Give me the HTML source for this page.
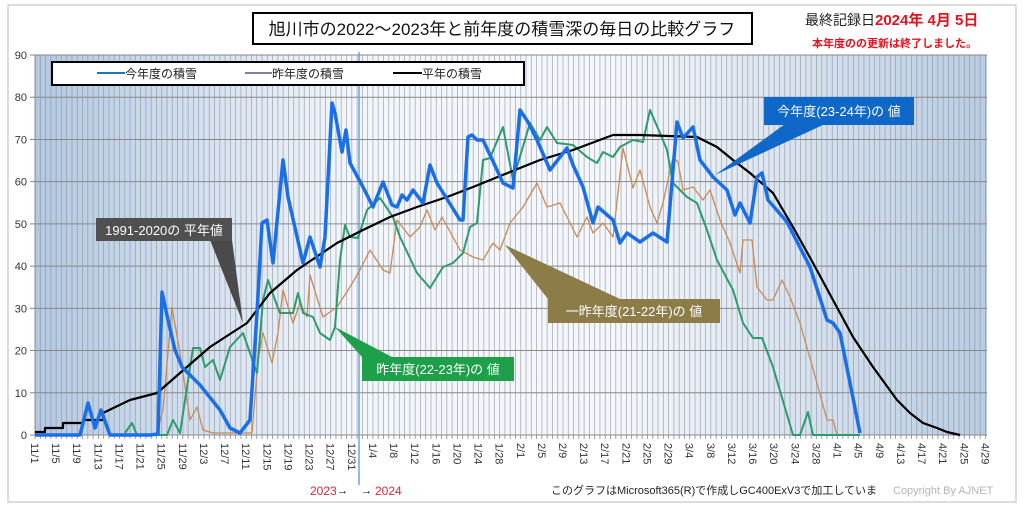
<!DOCTYPE html>
<html><head><meta charset="utf-8">
<style>
html,body{margin:0;padding:0;background:#fff;}
body{width:1024px;height:514px;overflow:hidden;position:relative;font-family:"Liberation Sans","Noto Sans CJK JP",sans-serif;}
svg text{font-family:"Liberation Sans","Noto Sans CJK JP",sans-serif;}
</style></head><body>
<svg id="s" width="1024" height="514" viewBox="0 0 1024 514" xmlns="http://www.w3.org/2000/svg">
<defs>
<linearGradient id="bg" x1="0" y1="0" x2="1" y2="0">
<stop offset="0" stop-color="#b3c8e2"/>
<stop offset="0.33" stop-color="#f2f6fb"/>
<stop offset="0.62" stop-color="#f4f7fb"/>
<stop offset="1" stop-color="#b9cce3"/>
</linearGradient>
</defs>
<rect x="8" y="5" width="1008" height="497" fill="#fff" stroke="#bbb" stroke-width="1"/>
<rect x="35" y="55" width="952" height="380" fill="url(#bg)"/>
<g id="grid"></g>
<line x1="359" y1="52" x2="359" y2="485" stroke="#6fa4d4" stroke-width="1.5"/>
<rect x="253" y="13" width="499" height="31" fill="#fff" stroke="#000" stroke-width="2"/>
<text x="502" y="35" font-size="17" text-anchor="middle" fill="#111">旭川市の2022～2023年と前年度の積雪深の毎日の比較グラフ</text>
<text x="805" y="25" font-size="14" fill="#222">最終記録日<tspan fill="#e0141e" font-weight="bold" font-size="15">2024年 4月  5日</tspan></text>
<text x="812" y="47" font-size="11" fill="#e0141e" font-weight="bold">本年度のの更新は終了しました。</text>
<rect x="52" y="62" width="472" height="23" fill="#fff" stroke="#000" stroke-width="2"/>
<line x1="97" y1="73" x2="125" y2="73" stroke="#1f77b4" stroke-width="2"/>
<text x="125" y="78" font-size="12" fill="#222">今年度の積雪</text>
<line x1="245" y1="73" x2="272" y2="73" stroke="#7f7f9f" stroke-width="2"/>
<text x="272" y="78" font-size="12" fill="#222">昨年度の積雪</text>
<line x1="393" y1="73" x2="422" y2="73" stroke="#000" stroke-width="2"/>
<text x="422" y="78" font-size="12" fill="#222">平年の積雪</text>
<g id="series"></g>
<polygon points="210,240 232,240 243,323" fill="#4a4a4a"/>
<rect x="96" y="218" width="136" height="23" fill="#505050"/>
<text x="164" y="235" font-size="13" fill="#fff" text-anchor="middle">1991-2020の 平年値</text>
<polygon points="362,357 392,357 335,327" fill="#1ea04a"/>
<rect x="362" y="357" width="152" height="24" fill="#1ea04a"/>
<text x="438" y="374" font-size="13" fill="#fff" text-anchor="middle">昨年度(22-23年)の 値</text>
<polygon points="548,299 620,299 505,245" fill="#8c7c48"/>
<rect x="548" y="299" width="172" height="24" fill="#8c7c48"/>
<text x="634" y="316" font-size="13" fill="#fff" text-anchor="middle">一昨年度(21-22年)の 値</text>
<polygon points="785,124 825,124 715,175" fill="#0f67c8"/>
<rect x="764" y="97" width="150" height="28" fill="#0f67c8"/>
<text x="839" y="116" font-size="13" fill="#fff" text-anchor="middle">今年度(23-24年)の 値</text>
<g id="labels"></g>
<text x="310" y="495" font-size="12" fill="#d8283a">2023</text>
<text x="337" y="494" font-size="11" fill="#000">→</text>
<text x="361" y="494" font-size="11" fill="#000">→</text>
<text x="375" y="495" font-size="12" fill="#d8283a">2024</text>
<text x="551" y="494" font-size="11" fill="#222">このグラフはMicrosoft365(R)で作成しGC400ExV3で加工していま</text>
<text x="893" y="494" font-size="11" fill="#b5b5b5">Copyright By AJNET</text>
</svg>
<script>
var NS="http://www.w3.org/2000/svg";
function el(p,t,a,txt){var e=document.createElementNS(NS,t);for(var k in a)e.setAttribute(k,a[k]);if(txt!==undefined)e.textContent=txt;p.appendChild(e);return e;}
var g=document.getElementById('grid'),L=document.getElementById('labels'),S=document.getElementById('series');
var x0=35,dx=5.28,y0=435,dy=4.222;
for(var i=0;i<=180;i++){var x=x0+i*dx;el(g,'line',{x1:x,y1:55,x2:x,y2:435,stroke:'#8a8f99','stroke-width':0.8,'stroke-opacity':0.7});
el(g,'line',{x1:x,y1:435,x2:x,y2:439,stroke:'#888','stroke-width':0.8});}
for(var v=0;v<=90;v+=10){var y=y0-v*dy;el(g,'line',{x1:30,y1:y,x2:987,y2:y,stroke:'#888','stroke-width':1});
el(L,'text',{x:27,y:y+4,'font-size':11,'text-anchor':'end',fill:'#333'},String(v));}
el(g,'line',{x1:35,y1:55,x2:35,y2:435,stroke:'#888','stroke-width':1});
var labs=["11/1","11/5","11/9","11/13","11/17","11/21","11/25","11/29","12/3","12/7","12/11","12/15","12/19","12/23","12/27","12/31","1/4","1/8","1/12","1/16","1/20","1/24","1/28","2/1","2/5","2/9","2/13","2/17","2/21","2/25","2/29","3/4","3/8","3/12","3/16","3/20","3/24","3/28","4/1","4/5","4/9","4/13","4/17","4/21","4/25","4/29"];
labs.forEach(function(t,j){var x=x0+j*4*dx-4;el(L,'text',{x:x,y:443,'font-size':11,fill:'#333',transform:'rotate(90 '+x+' 443)'},t);});
function pl(pts,c,w){el(S,'polyline',{points:pts,fill:'none',stroke:c,'stroke-width':w,'stroke-linejoin':'round'});}
pl("157,433 163,410 172,307 180,353 190,420 197,407 203,430 213,433 248,433 252,433 258,360 263,333 272,363 278,333 283,290 293,323 300,303 307,317 310,275 323,317 337,307 350,287 360,270 370,250 383,270 390,273 397,220 410,237 420,227 427,210 435,230 442,217 460,250 473,257 483,260 493,243 500,250 510,223 523,207 537,183 547,207 560,203 577,237 587,217 593,233 603,223 613,237 623,148 633,188 640,170 650,207 657,223 663,203 673,157 678,162 683,190 693,187 703,200 710,190 720,220 730,243 740,273 743,240 752,240 757,287 767,300 773,300 782,280 790,297 800,323 817,383 827,420 833,420 837,435 860,435","#c98a55",1.3);
pl("125,433 132,423 137,435 167,435 173,420 180,433 193,348 200,348 205,367 213,360 220,380 230,347 243,333 250,353 257,373 263,300 268,280 275,300 280,313 293,313 298,293 303,313 313,317 320,333 330,340 335,327 340,260 345,225 350,237 358,238 367,210 380,198 393,217 400,237 417,273 430,288 443,267 453,263 463,253 470,227 477,223 483,160 490,158 503,127 513,180 530,123 540,140 547,127 557,143 573,145 587,157 597,163 603,152 613,157 620,147 633,140 643,142 650,110 660,133 667,150 673,183 687,197 697,203 707,230 717,260 733,290 743,323 753,338 762,338 773,367 793,435 800,435 808,412 813,435 860,435","#2e9a6e",2);
pl("35,432 45,432 45,428 63,428 63,423 83,423 83,420 103,420 103,413 130,400 157,393 180,373 210,347 247,323 270,293 297,270 337,243 363,230 390,217 417,207 447,197 473,187 510,172 540,160 573,150 613,135 640,135 697,137 717,147 733,160 750,173 773,193 793,227 813,263 833,300 853,337 873,367 897,400 910,413 923,423 937,428 947,432 960,435","#000",2.2);
pl("35,435 80,435 88,403 95,428 101,410 110,435 150,435 158,434 162,292 168,320 175,350 182,367 200,385 220,410 230,428 240,433 250,420 257,313 262,223 267,220 273,263 283,160 288,197 303,263 310,237 320,267 325,237 332,103 335,113 342,152 346,130 350,163 363,187 373,207 383,182 392,205 397,207 402,195 407,200 413,190 423,203 430,165 437,183 460,220 463,220 468,137 472,135 477,140 483,140 497,170 503,183 513,188 520,110 528,122 537,140 550,170 567,148 573,165 583,187 593,223 598,207 613,220 620,243 627,233 640,242 653,233 667,242 677,122 683,138 693,127 700,160 713,177 727,190 735,215 740,203 750,223 757,177 762,173 768,200 787,222 810,267 827,320 833,323 840,333 860,433","#1a6fe8",3.5);
</script>
</body></html>
